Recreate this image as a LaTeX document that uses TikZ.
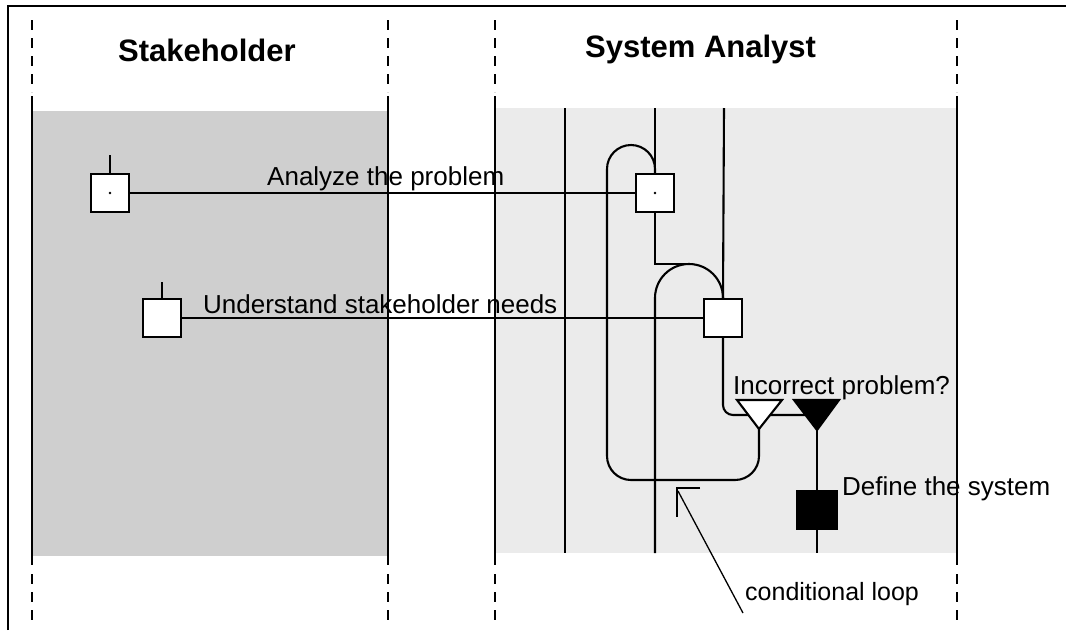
\documentclass[tikz,border=0pt]{standalone}
\usepackage{fontspec}
\setmainfont{Liberation Sans}
\begin{document}
\begin{tikzpicture}[x=1pt,y=-1pt,
  lane/.style={line width=2.5pt},
  lanedash/.style={line width=2.5pt, dash pattern=on 10pt off 8pt},
  flow/.style={line width=2.1pt},
  pointer/.style={line width=1.3pt},
  actbox/.style={draw, line width=2.1pt, fill=white, minimum width=38pt, minimum height=38pt, inner sep=0pt},
  donebox/.style={actbox, fill=black, minimum width=40pt},
  lbl/.style={font=\fontsize{26}{30}\selectfont, inner sep=0pt, anchor=base west},
  note/.style={font=\fontsize{25}{30}\selectfont, inner sep=0pt, anchor=base west},
  lanetitle/.style={font=\bfseries\fontsize{31}{36}\selectfont, inner sep=0pt, anchor=base west},
]
\useasboundingbox (0,0) rectangle (1066,630);
\fill[white] (0,0) rectangle (1066,630);

% outer frame
\draw[line width=2pt] (8,630) -- (8,6) -- (1066,6);

% shaded swimlane bodies
\fill[black!19] (33,111) rectangle (387,556);
\fill[black!8] (496,108) rectangle (956,553);

% swimlane separators
\foreach \x in {32,388,495,957} {
  \draw[lanedash] (\x,20) -- (\x,92);
  \draw[lane] (\x,96) -- (\x,565);
  \draw[lanedash] (\x,574) -- (\x,622);
}

% lane titles
\node[lanetitle] (tStake) at (118,61) {Stakeholder};
\node[lanetitle] (tSys) at (585,57) {System Analyst};

% activity states
\node[actbox] (sA) at (110,193) {};
\node[actbox] (sB) at (162,318) {};
\node[actbox] (aA) at (655,193) {};
\node[actbox] (aB) at (723,318) {};

% lifeline end points
\coordinate (sAtop) at (110,155);
\coordinate (sBtop) at (162,282);
\coordinate (l1top) at (565,108);
\coordinate (l1bot) at (565,553);
\coordinate (l2top) at (655,108);
\coordinate (l2bot) at (655,553);
\coordinate (l3top) at (724,108);
\coordinate (l4bot) at (817,553);
\coordinate (join) at (655,264);
\coordinate (archtop) at (690,264);

% decision triangles
\coordinate (orApex) at (759,429);
\coordinate (decApex) at (817,430);
\coordinate (decMid) at (817,415);

% ticks above the stakeholder states
\draw[flow] (sAtop) -- (sA.north);
\draw[flow] (sBtop) -- (sB.north);

% lifelines
\draw[flow] (l1top) -- (l1bot);
\draw[flow] (l2top) -- (aA.north);
\draw[flow] (l3top) -- (aB.north);

% messages between lanes
\draw[flow] (sA.east) -- (aA.west);
\draw[flow] (sB.east) -- (aB.west);

% flow from the first to the second analyst state
\draw[flow] (aA.south) -- (join) -- (archtop);
\draw[flow, rounded corners=34pt] (l2bot) -- (655,264) -- (aB.north |- join) -- (aB.north);

% conditional loop back to the first analyst state
\draw[flow, rounded corners=24pt] (orApex) -- (759,480) -- (607,480) -- (607,145) -- (655,145) -- (aA.north);

% flow out of the second analyst state to the decision
\draw[flow, rounded corners=10pt] (aB.south) -- (723,415) -- (decMid);

\draw[flow, fill=white] (737,400) -- (782,400) -- (orApex) -- cycle;
\draw[flow, fill=black] (794,400) -- (839,400) -- (decApex) -- cycle;

% final state
\node[donebox] (def) at (817,510) {};
\draw[flow] (decApex) -- (def.north);
\draw[flow] (def.south) -- (l4bot);

% centre marks
\fill (sA.center) circle (1.3);
\fill (aA.center) circle (1.3);

% labels
\node[lbl] (lAnalyze) at (267,185) {Analyze the problem};
\node[lbl] (lUnderstand) at (203,313) {Understand stakeholder needs};
\node[lbl] (lIncorrect) at (733,394) {Incorrect problem?};
\node[lbl] (lDefine) at (842,495) {Define the system};

% annotation of the loop
\node[note] (lLoop) at (745,600) {conditional loop};
\coordinate (brkR) at (700,488);
\coordinate (brkC) at (677,488);
\coordinate (brkB) at (677,517);
\coordinate (ptrS) at (678,491);
\coordinate (ptrE) at (743,613);
\draw[pointer] (brkR) -- (brkC) -- (brkB);
\draw[pointer] (ptrS) -- (ptrE);
\end{tikzpicture}
\end{document}
